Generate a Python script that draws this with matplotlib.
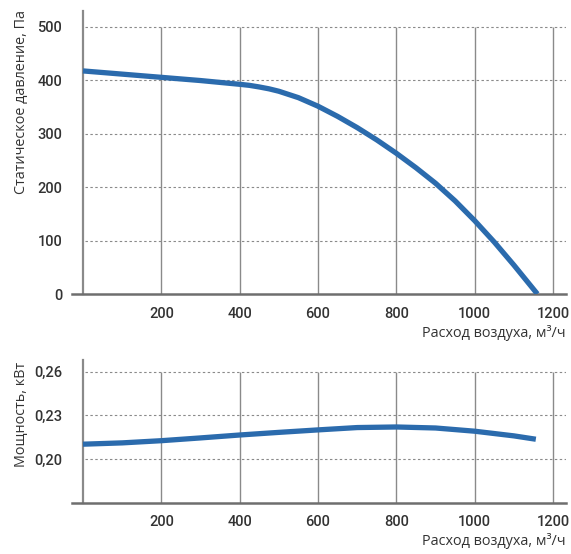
import numpy as np
import matplotlib.pyplot as plt

# air flow, m3/h
flow = [0, 100, 200, 300, 400, 425, 450, 475, 500, 550, 600, 650, 700, 750, 800, 850,
        900, 950, 1000, 1050, 1100, 1160]
# static pressure, Pa
pressure = [417, 411, 405, 399, 392, 390, 387, 383.5, 379, 367, 351, 332, 311, 288, 263, 236,
            207, 174, 137, 97, 54, 0]

flow_p = [0, 100, 200, 300, 400, 500, 600, 700, 800, 900, 1000, 1100, 1156]
power = [0.2103, 0.2112, 0.2127, 0.2146, 0.2166, 0.2184, 0.2201, 0.2217, 0.2221,
         0.2214, 0.2192, 0.2160, 0.2137]

xticks = [200, 400, 600, 800, 1000, 1200]
p_ticks = [0, 100, 200, 300, 400, 500]
w_ticks = [0.20, 0.23, 0.26]
w_labels = ['0,20', '0,23', '0,26']

line_color = '#2b6bad'
grid_color = '#8a8a8a'
text_color = '#333333'
tick_font = ['Liberation Sans Narrow', 'Roboto']
label_font = 'Open Sans'

W, H = 571, 554
fig = plt.figure(figsize=(W / 100, H / 100), dpi=100)


def axes_px(left, right, top, bottom):
    return fig.add_axes([left / W, 1 - bottom / H, (right - left) / W, (bottom - top) / H])


def setup(ax, ylo, yhi, gl, yt, ylabels):
    ax.set_xlim(-28, 1233)
    ax.set_ylim(ylo, yhi)
    for s in ['top', 'right']:
        ax.spines[s].set_visible(False)
    ax.spines['left'].set_position(('data', 0))
    ax.spines['left'].set_color(grid_color)
    ax.spines['left'].set_linewidth(1.6)
    ax.spines['bottom'].set_color('#6e6e6e')
    ax.spines['bottom'].set_linewidth(1.8)
    ax.vlines(xticks, ylo, gl[-1], color=grid_color, lw=1.0, zorder=1)
    ax.hlines(gl, 5, 1233, color=grid_color, lw=0.8, linestyles=(0, (2.2, 2.2)), zorder=1)
    ax.set_xticks(xticks)
    ax.set_xticklabels([str(t) for t in xticks], family=tick_font, fontsize=10.5,
                       fontweight='medium', color=text_color)
    ax.set_yticks(yt)
    ax.set_yticklabels(ylabels, family=tick_font, fontsize=10.5,
                       fontweight='medium', color=text_color)
    ax.tick_params(axis='both', length=0)
    ax.tick_params(axis='x', pad=9)
    ax.tick_params(axis='y', pad=15)


# top chart: static pressure
ax1 = axes_px(72, 566, 11, 294)
setup(ax1, 0, 529, p_ticks[1:], p_ticks, [str(t) for t in p_ticks])
ax1.plot(flow, pressure, color=line_color, lw=3.8, solid_capstyle='butt',
         solid_joinstyle='round', zorder=3)

# bottom chart: power
ax2 = axes_px(72, 566, 360, 503)
setup(ax2, 0.17, 0.268, w_ticks, w_ticks, w_labels)
ax2.plot(flow_p, power, color=line_color, lw=3.8, solid_capstyle='butt',
         solid_joinstyle='round', zorder=3)

# axis titles
fig.text(22 / W, 1 - 10 / H, 'Статическое давление, Па', rotation=90, ha='center', va='top',
         fontfamily=label_font, fontsize=10.4, color=text_color)
fig.text(22 / W, 1 - 362 / H, 'Мощность, кВт', rotation=90, ha='center', va='top',
         fontfamily=label_font, fontsize=10.4, color=text_color)
fig.text(566 / W, 1 - 333 / H, 'Расход воздуха, м³/ч', ha='right', va='center',
         fontfamily=label_font, fontsize=10.4, color=text_color)
fig.text(566 / W, 1 - 541 / H, 'Расход воздуха, м³/ч', ha='right', va='center',
         fontfamily=label_font, fontsize=10.4, color=text_color)

fig.savefig('out.png', dpi=100)
